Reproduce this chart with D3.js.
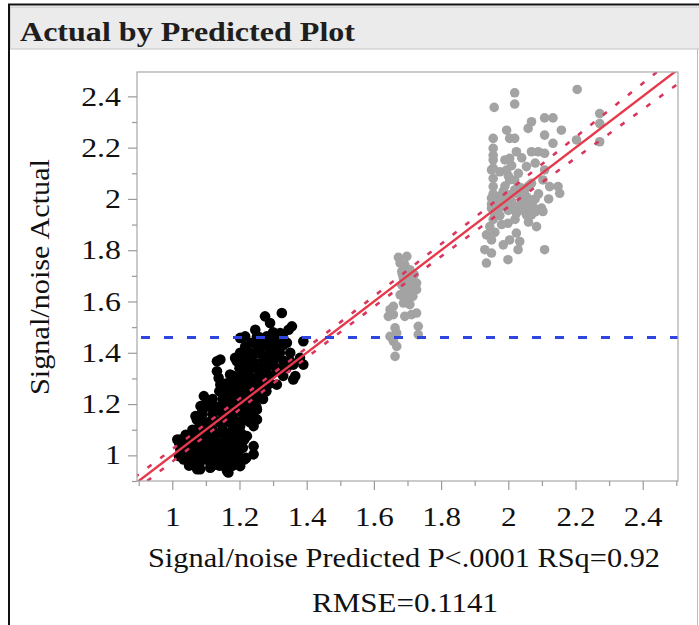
<!DOCTYPE html>
<html><head><meta charset="utf-8">
<script src="https://cdn.jsdelivr.net/npm/d3@7"></script>
<style>html,body{margin:0;padding:0;background:#fff;} svg{display:block;}</style>
</head><body><svg id="c" width="699" height="625"></svg>
<script>
// ---- data: [predicted, actual] ----
const lowGroup = [
[1.326,1.555],[1.276,1.542],[1.291,1.516],[1.356,1.503],[1.247,1.490],[1.321,1.477],[1.217,1.464],[1.252,1.464],[1.281,1.464],[1.311,1.439],
[1.341,1.439],[1.390,1.445],[1.217,1.425],[1.237,1.439],[1.267,1.432],[1.291,1.412],[1.202,1.400],[1.222,1.380],[1.252,1.400],[1.276,1.380],
[1.311,1.386],[1.351,1.400],[1.380,1.380],[1.390,1.354],[1.351,1.367],[1.336,1.347],[1.133,1.367],[1.192,1.367],[1.212,1.341],[1.237,1.354],
[1.360,1.296],[1.133,1.328],[1.138,1.302],[1.172,1.315],[1.192,1.296],[1.222,1.322],[1.252,1.302],[1.281,1.315],[1.311,1.328],[1.281,1.283],
[1.311,1.276],[1.267,1.257],[1.143,1.276],[1.167,1.270],[1.192,1.263],[1.217,1.270],[1.242,1.270],[1.192,1.231],[1.172,1.218],[1.152,1.205],
[1.212,1.218],[1.232,1.205],[1.252,1.225],[1.113,1.192],[1.133,1.179],[1.152,1.166],[1.172,1.179],[1.192,1.192],[1.212,1.179],[1.232,1.166],
[1.252,1.179],[1.252,1.140],[1.242,1.114],[1.088,1.166],[1.073,1.140],[1.083,1.114],[1.103,1.127],[1.123,1.140],[1.143,1.127],[1.163,1.140],
[1.182,1.127],[1.202,1.114],[1.222,1.140],[1.024,1.062],[1.044,1.075],[1.063,1.062],[1.083,1.075],[1.103,1.088],[1.123,1.075],[1.143,1.088],
[1.163,1.075],[1.182,1.088],[1.202,1.062],[1.222,1.075],[1.024,1.023],[1.044,1.011],[1.063,1.023],[1.083,1.011],[1.103,1.023],[1.123,1.011],
[1.143,1.023],[1.163,1.011],[1.192,1.036],[1.197,1.011],[1.242,1.036],[1.242,1.004],[1.034,0.984],[1.053,0.997],[1.073,0.972],[1.093,0.984],
[1.113,0.972],[1.133,0.984],[1.152,0.972],[1.172,0.997],[1.202,0.972],[1.083,0.946],[1.113,0.952],[1.163,0.939],[1.202,0.958],[1.167,0.933],
[1.015,1.062],[1.020,0.997],[1.069,1.153],[1.084,1.192],[1.094,1.231],[1.074,0.946],[1.214,1.062],[1.214,0.984],
[1.346,1.490],[1.202,1.458],[1.143,1.374],[1.187,1.380],[1.360,1.354],[1.366,1.309],[1.202,1.309],[1.242,1.289],
[1.10,1.20],[1.16,1.24],[1.18,1.15],[1.20,1.25],[1.23,1.24],[1.26,1.34],[1.27,1.28],[1.29,1.35],[1.30,1.40],[1.32,1.42],
[1.28,1.45],[1.30,1.48],[1.26,1.41],[1.24,1.36],[1.22,1.29],[1.20,1.20],[1.15,1.10],[1.13,1.05],[1.09,1.05],[1.05,1.04],
[1.07,1.10],[1.10,0.99],[1.14,0.96],[1.18,1.05],[1.19,0.98],
[1.05,0.96],[1.08,0.96],[1.12,0.96],[1.15,0.96],[1.18,0.96],
[1.04,0.99],[1.07,0.99],[1.11,0.99],[1.14,0.99],[1.17,0.99],[1.22,0.99],
[1.03,1.03],[1.06,1.03],[1.09,1.03],[1.13,1.03],[1.16,1.03],[1.18,1.03],[1.21,1.03],
[1.02,1.05],[1.05,1.05],[1.08,1.05],[1.11,1.05],[1.15,1.05],[1.17,1.05],
[1.04,1.08],[1.07,1.08],[1.10,1.08],[1.13,1.08],[1.16,1.08],[1.19,1.08],[1.21,1.08],
[1.06,1.10],[1.09,1.10],[1.12,1.10],[1.15,1.10],[1.18,1.10],[1.20,1.10],
[1.08,1.13],[1.11,1.13],[1.14,1.13],[1.17,1.13],[1.20,1.13],[1.23,1.13],
[1.09,1.16],[1.12,1.16],[1.15,1.16],[1.18,1.16],[1.21,1.16],[1.24,1.16],
[1.10,1.19],[1.13,1.19],[1.16,1.19],[1.19,1.19],[1.22,1.19],[1.25,1.19],
[1.12,1.22],[1.15,1.22],[1.18,1.22],[1.21,1.22],[1.24,1.22],[1.27,1.22],
[1.14,1.25],[1.17,1.25],[1.19,1.25],[1.22,1.25],[1.25,1.25],[1.28,1.25],
[1.16,1.28],[1.18,1.28],[1.21,1.28],[1.24,1.28],[1.26,1.28],[1.29,1.28],
[1.18,1.31],[1.21,1.31],[1.23,1.31],[1.26,1.31],[1.29,1.31],[1.33,1.31],
[1.20,1.34],[1.23,1.34],[1.25,1.34],[1.28,1.34],[1.31,1.34],[1.34,1.34],
[1.21,1.37],[1.24,1.37],[1.27,1.37],[1.30,1.37],[1.33,1.37],
[1.23,1.40],[1.26,1.40],[1.29,1.40],[1.32,1.40],
[1.25,1.43],[1.28,1.43],[1.30,1.43],[1.33,1.43],
[1.26,1.46],[1.30,1.46],[1.33,1.46]
];
const midGroup = [
[1.673,1.772],[1.698,1.776],[1.678,1.750],[1.692,1.743],[1.683,1.717],[1.698,1.717],[1.707,1.724],[1.688,1.691],[1.702,1.691],[1.716,1.698],
[1.683,1.665],[1.698,1.665],[1.712,1.665],[1.727,1.672],[1.693,1.639],[1.712,1.639],[1.727,1.646],[1.678,1.626],[1.698,1.614],[1.716,1.620],
[1.688,1.594],[1.707,1.588],[1.658,1.581],[1.648,1.568],[1.643,1.542],[1.658,1.549],[1.692,1.542],[1.712,1.549],[1.727,1.555],[1.663,1.497],
[1.668,1.477],[1.732,1.503],[1.732,1.471],[1.648,1.464],[1.658,1.445],[1.668,1.425],[1.663,1.386],[1.702,1.700],[1.690,1.655],[1.705,1.610],
[1.720,1.705],[1.695,1.600],[1.710,1.680],[1.685,1.705]
];
const highGroup = [
[2.205,2.427],[2.019,2.414],[2.019,2.370],[1.958,2.357],[2.108,2.316],[2.133,2.316],[2.069,2.301],[2.059,2.275],[2.158,2.268],[1.995,2.268],
[2.004,2.236],[2.019,2.236],[1.955,2.236],[2.108,2.249],[2.272,2.333],[2.272,2.294],[2.203,2.230],[2.133,2.217],[2.272,2.223],[1.955,2.197],
[1.955,2.152],[2.024,2.184],[2.069,2.184],[2.089,2.184],[2.108,2.178],[1.990,2.152],[2.004,2.158],[1.950,2.113],[1.975,2.106],[1.995,2.113],
[2.054,2.126],[2.108,2.113],[2.004,2.074],[2.019,2.074],[1.955,2.048],[2.029,2.048],[2.049,2.035],[2.069,2.061],[2.103,2.074],[2.123,2.048],
[2.148,2.048],[2.153,2.022],
[1.950,2.003],[1.970,2.009],[1.985,1.996],[2.004,2.016],[2.024,2.022],[2.039,2.003],[2.054,2.009],[2.069,1.996],[1.950,1.964],[1.970,1.957],
[1.990,1.970],[2.014,1.977],[2.034,1.964],[2.054,1.951],[2.074,1.970],[2.099,1.964],[1.960,1.938],[2.024,1.944],[2.054,1.938],[2.069,1.938],
[2.103,1.951],[2.019,2.035],[2.039,2.042],
[1.985,2.030],[2.010,1.990],[2.040,1.985],[2.060,1.975],[1.965,1.985],[2.080,2.000],[2.000,1.955],[2.045,1.955],[1.975,1.935],
[1.999,1.905],[2.084,1.892],[1.945,1.892],[1.935,1.860],[1.950,1.840],[1.930,1.802],[1.950,1.789],[1.935,1.750],[1.985,1.821],[2.004,1.840],
[2.024,1.867],[2.034,1.834],[2.029,1.802],[1.999,1.763],[2.108,1.802],
[1.955,2.170],[1.955,2.120],[1.955,2.080],[1.955,2.020],[1.950,1.980],[1.955,1.920],[1.960,1.870],[1.990,2.050],[2.000,2.090],[2.030,2.100],
[2.060,2.050],[2.090,2.020],[2.120,2.000],[2.080,1.950],[2.020,1.920],[1.980,1.900],[2.060,1.910],[2.010,2.130],[2.040,2.160],[2.080,2.140]
];
const majorTicks = [1, 1.2, 1.4, 1.6, 1.8, 2, 2.2, 2.4];
const tickLabels = ["1", "1.2", "1.4", "1.6", "1.8", "2", "2.2", "2.4"];
const xMinorTicks = [0.9, 1.1, 1.3, 1.5, 1.7, 1.9, 2.1, 2.3, 2.5];
const yMinorTicks = [0.9, 1.1, 1.3, 1.5, 1.7, 1.9, 2.1, 2.3];
const meanActual = 1.46;
const fitLine = [[0.85, 0.85], [2.6, 2.6]];
const confPred = [0.85, 1.2, 1.46, 1.7, 2.0, 2.3, 2.6];
const confHalf = [0.027, 0.021, 0.019, 0.022, 0.031, 0.046, 0.06];
const titleText = "Actual by Predicted Plot";
const xTitle = "Signal/noise Predicted P<.0001 RSq=0.92";
const xTitle2 = "RMSE=0.1141";
const yTitle = "Signal/noise Actual";

// ---- drawing ----
const svg = d3.select("#c");
const FONT = "'Liberation Serif','Times New Roman',serif";
const FS = 27;
function widen(sel, f) {
  sel.each(function () {
    const L = this.getComputedTextLength();
    this.setAttribute("textLength", L * f);
    this.setAttribute("lengthAdjust", "spacingAndGlyphs");
  });
}
function fitWidth(sel, w) {
  sel.attr("textLength", w).attr("lengthAdjust", "spacingAndGlyphs");
}

svg.append("rect").attr("width", 699).attr("height", 625).attr("fill", "#fff");
svg.append("rect").attr("x", 10).attr("y", 7).attr("width", 700).attr("height", 42)
  .attr("fill", "#ebebeb").attr("stroke", "#c4c4c4").attr("stroke-width", 1);
svg.append("path").attr("d", "M9,625V4.5H699").attr("fill", "none").attr("stroke", "#111").attr("stroke-width", 2);
svg.append("line").attr("x1", 697.5).attr("x2", 697.5).attr("y1", 49).attr("y2", 625).attr("stroke", "#bbb");
const tt = svg.append("text").attr("x", 20).attr("y", 41).text(titleText)
  .attr("font-family", FONT).attr("font-weight", "bold").attr("font-size", 28).attr("fill", "#1e1e1e");
fitWidth(tt, 335);

const L = 137, R = 678, T = 72, B = 481;
const x = d3.scaleLinear().domain([0.895, 2.505]).range([L, R]);
const y = d3.scaleLinear().domain([0.9, 2.495]).range([B, T]);

svg.append("defs").append("clipPath").attr("id", "clip")
  .append("rect").attr("x", L).attr("y", T).attr("width", R - L).attr("height", B - T);
svg.append("rect").attr("x", L).attr("y", T).attr("width", R - L).attr("height", B - T).attr("fill", "#fff");

const pts = svg.append("g").attr("clip-path", "url(#clip)");
pts.selectAll("circle.gr").data(midGroup.concat(highGroup)).join("circle")
  .attr("cx", d => x(d[0])).attr("cy", d => y(d[1])).attr("r", 4.8).attr("fill", "#a3a3a3");
pts.selectAll("circle.bk").data(lowGroup).join("circle")
  .attr("cx", d => x(d[0])).attr("cy", d => y(d[1])).attr("r", 5.3).attr("fill", "#000");

const lines = svg.append("g").attr("clip-path", "url(#clip)");
const curve = d3.line().x(d => x(d[0])).y(d => y(d[1])).curve(d3.curveMonotoneX);
[1, -1].forEach(s => {
  lines.append("path").datum(confPred.map((p, i) => [p, p + s * confHalf[i]]))
    .attr("d", curve).attr("fill", "none").attr("stroke", "#d8365c").attr("stroke-width", 2.6)
    .attr("stroke-dasharray", "5,11");
});
lines.append("path").datum(fitLine).attr("d", d3.line().x(d => x(d[0])).y(d => y(d[1])))
  .attr("fill", "none").attr("stroke", "#e63a4c").attr("stroke-width", 2.4);
lines.append("line").attr("x1", L).attr("x2", R).attr("y1", y(meanActual)).attr("y2", y(meanActual))
  .attr("stroke", "#2f45e0").attr("stroke-width", 3).attr("stroke-dasharray", "9,14").attr("stroke-dashoffset", -4);

svg.append("rect").attr("x", L).attr("y", T).attr("width", R - L).attr("height", B - T)
  .attr("fill", "none").attr("stroke", "#a8a8a8").attr("stroke-width", 1.2);

function styleAxis(g) {
  g.select(".domain").remove();
  g.selectAll(".tick line").attr("stroke", "#9a9a9a").attr("stroke-width", 1.2);
  g.selectAll("text").attr("font-family", FONT).attr("font-size", FS).attr("fill", "#111");
}
const yMinor = svg.append("g").attr("transform", `translate(${L},0)`)
  .call(d3.axisLeft(y).tickValues(yMinorTicks).tickSize(5).tickFormat(""));
styleAxis(yMinor);
const yAx = svg.append("g").attr("transform", `translate(${L},0)`)
  .call(d3.axisLeft(y).tickValues(majorTicks).tickSize(9).tickPadding(7).tickFormat((d, i) => tickLabels[i]));
styleAxis(yAx);
widen(yAx.selectAll("text"), 1.18);

const xMinor = svg.append("g").attr("transform", `translate(0,${B})`)
  .call(d3.axisBottom(x).tickValues(xMinorTicks).tickSize(5).tickFormat(""));
styleAxis(xMinor);
const xAx = svg.append("g").attr("transform", `translate(0,${B})`)
  .call(d3.axisBottom(x).tickValues(majorTicks).tickSize(9).tickPadding(17).tickFormat((d, i) => tickLabels[i]));
styleAxis(xAx);
widen(xAx.selectAll("text"), 1.15);

const xt = svg.append("text").attr("x", 404).attr("y", 567).attr("text-anchor", "middle").text(xTitle)
  .attr("font-family", FONT).attr("font-size", FS).attr("fill", "#111");
fitWidth(xt, 512);
const xt2 = svg.append("text").attr("x", 405).attr("y", 612).attr("text-anchor", "middle").text(xTitle2)
  .attr("font-family", FONT).attr("font-size", FS).attr("fill", "#111");
fitWidth(xt2, 186);
const yt = svg.append("text").attr("transform", "translate(49,277) rotate(-90)").attr("text-anchor", "middle").text(yTitle)
  .attr("font-family", FONT).attr("font-size", FS).attr("fill", "#111");
fitWidth(yt, 236);
</script></body></html>
